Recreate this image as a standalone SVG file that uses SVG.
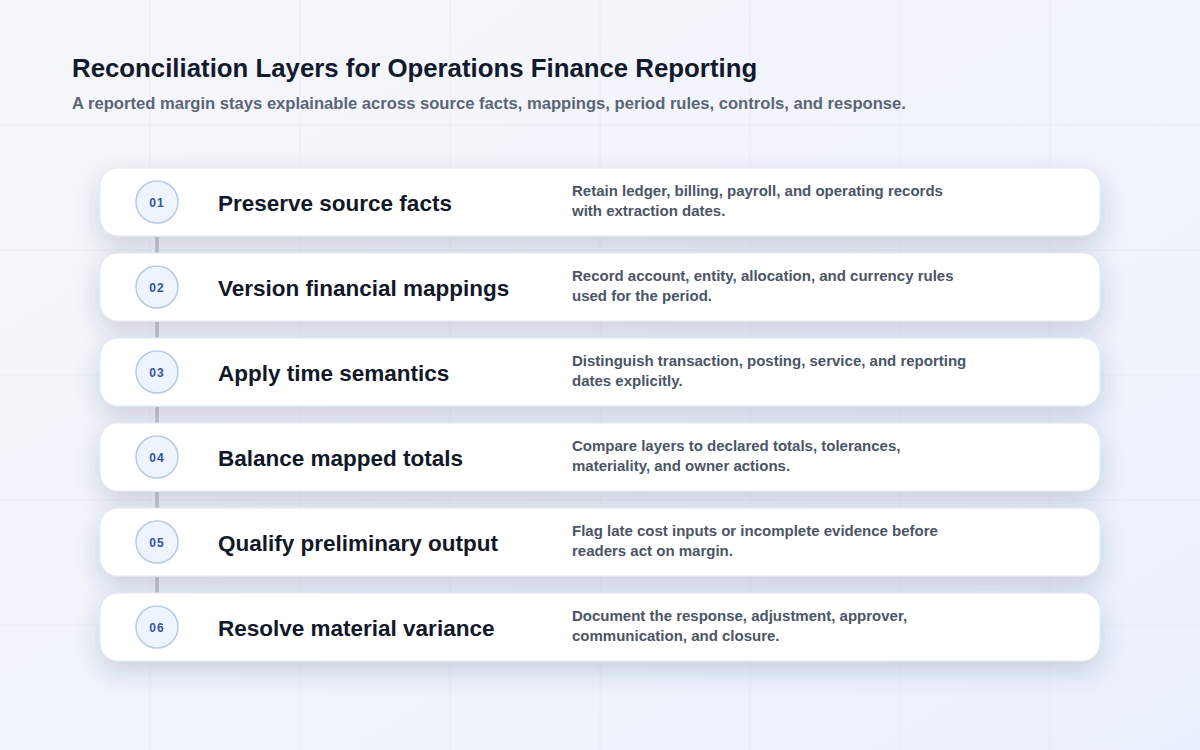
<svg xmlns="http://www.w3.org/2000/svg" width="1200" height="750" viewBox="0 0 1200 750">
  <defs>
    <linearGradient id="bg" x1="0" y1="0" x2="1" y2="1">
      <stop offset="0" stop-color="#f6f7fb"/>
      <stop offset="1" stop-color="#ebf1fc"/>
    </linearGradient>
    <filter id="shadow" x="-5%" y="-30%" width="110%" height="180%">
      <feDropShadow dx="0" dy="10" stdDeviation="12" flood-color="#24345c" flood-opacity="0.19"/>
    </filter>
    <style>
      .grid { stroke: #e4e8f0; stroke-width: 1; opacity: 0.6; }
      .card { fill: #ffffff; stroke: #e3e7ef; stroke-width: 1; filter: url(#shadow); }
      .badge { fill: #eef4fe; stroke: #b8cae6; stroke-width: 1.5; }
      .num { font-family: "Liberation Sans", Arial, sans-serif; font-size: 12px; font-weight: bold; fill: #3552a0; text-anchor: middle; letter-spacing: 1px; }
      .ttl { font-family: "Liberation Sans", Arial, sans-serif; font-size: 22.5px; font-weight: bold; fill: #111827; }
      .desc { font-family: "Liberation Sans", Arial, sans-serif; font-size: 15px; font-weight: bold; fill: #4b5565; }
      .link { stroke: #c3c7cf; stroke-width: 3.5; }
    </style>
  </defs>
  <rect width="1200" height="750" fill="url(#bg)"/>
  <g id="grid">
    <line class="grid" x1="150" y1="0" x2="150" y2="750"/>
    <line class="grid" x1="300" y1="0" x2="300" y2="750"/>
    <line class="grid" x1="450" y1="0" x2="450" y2="750"/>
    <line class="grid" x1="600" y1="0" x2="600" y2="750"/>
    <line class="grid" x1="750" y1="0" x2="750" y2="750"/>
    <line class="grid" x1="900" y1="0" x2="900" y2="750"/>
    <line class="grid" x1="1050" y1="0" x2="1050" y2="750"/>
    <line class="grid" x1="0" y1="125" x2="1200" y2="125"/>
    <line class="grid" x1="0" y1="250" x2="1200" y2="250"/>
    <line class="grid" x1="0" y1="375" x2="1200" y2="375"/>
    <line class="grid" x1="0" y1="500" x2="1200" y2="500"/>
    <line class="grid" x1="0" y1="625" x2="1200" y2="625"/>
  </g>
  <g id="header">
    <text x="72" y="77" font-family="Liberation Sans, Arial, sans-serif" font-size="25.8" font-weight="bold" fill="#131a2b">Reconciliation Layers for Operations Finance Reporting</text>
    <text x="72" y="109" font-family="Liberation Sans, Arial, sans-serif" font-size="16.6" font-weight="bold" fill="#5b6577">A reported margin stays explainable across source facts, mappings, period rules, controls, and response.</text>
  </g>
  <g id="connectors">
    <line class="link" x1="157" y1="237" x2="157" y2="253"/>
    <line class="link" x1="157" y1="322" x2="157" y2="338"/>
    <line class="link" x1="157" y1="407" x2="157" y2="423"/>
    <line class="link" x1="157" y1="492" x2="157" y2="508"/>
    <line class="link" x1="157" y1="577" x2="157" y2="593"/>
  </g>
  <g id="step01">
    <rect class="card" x="100" y="168" width="1000" height="68" rx="18"/>
    <circle class="badge" cx="157" cy="202" r="21"/>
    <text class="num" x="157" y="206.5">01</text>
    <text class="ttl" x="218" y="211">Preserve source facts</text>
    <text class="desc" x="572" y="196">Retain ledger, billing, payroll, and operating records</text>
    <text class="desc" x="572" y="216">with extraction dates.</text>
  </g>
  <g id="step02">
    <rect class="card" x="100" y="253" width="1000" height="68" rx="18"/>
    <circle class="badge" cx="157" cy="287" r="21"/>
    <text class="num" x="157" y="291.5">02</text>
    <text class="ttl" x="218" y="296">Version financial mappings</text>
    <text class="desc" x="572" y="281">Record account, entity, allocation, and currency rules</text>
    <text class="desc" x="572" y="301">used for the period.</text>
  </g>
  <g id="step03">
    <rect class="card" x="100" y="338" width="1000" height="68" rx="18"/>
    <circle class="badge" cx="157" cy="372" r="21"/>
    <text class="num" x="157" y="376.5">03</text>
    <text class="ttl" x="218" y="381">Apply time semantics</text>
    <text class="desc" x="572" y="366">Distinguish transaction, posting, service, and reporting</text>
    <text class="desc" x="572" y="386">dates explicitly.</text>
  </g>
  <g id="step04">
    <rect class="card" x="100" y="423" width="1000" height="68" rx="18"/>
    <circle class="badge" cx="157" cy="457" r="21"/>
    <text class="num" x="157" y="461.5">04</text>
    <text class="ttl" x="218" y="466">Balance mapped totals</text>
    <text class="desc" x="572" y="451">Compare layers to declared totals, tolerances,</text>
    <text class="desc" x="572" y="471">materiality, and owner actions.</text>
  </g>
  <g id="step05">
    <rect class="card" x="100" y="508" width="1000" height="68" rx="18"/>
    <circle class="badge" cx="157" cy="542" r="21"/>
    <text class="num" x="157" y="546.5">05</text>
    <text class="ttl" x="218" y="551">Qualify preliminary output</text>
    <text class="desc" x="572" y="536">Flag late cost inputs or incomplete evidence before</text>
    <text class="desc" x="572" y="556">readers act on margin.</text>
  </g>
  <g id="step06">
    <rect class="card" x="100" y="593" width="1000" height="68" rx="18"/>
    <circle class="badge" cx="157" cy="627" r="21"/>
    <text class="num" x="157" y="631.5">06</text>
    <text class="ttl" x="218" y="636">Resolve material variance</text>
    <text class="desc" x="572" y="621">Document the response, adjustment, approver,</text>
    <text class="desc" x="572" y="641">communication, and closure.</text>
  </g>
</svg>
